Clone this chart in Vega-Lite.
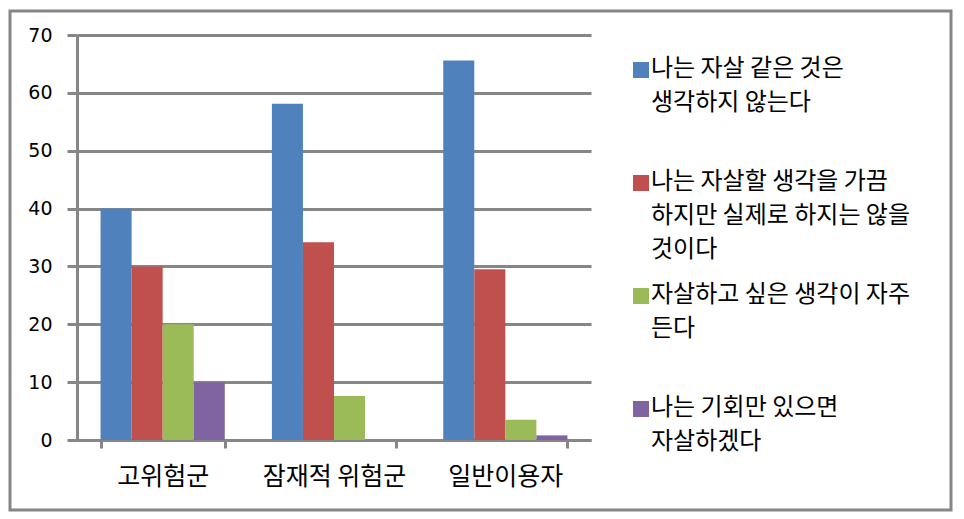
{
  "$schema": "https://vega.github.io/schema/vega-lite/v6.json",
  "width": 941,
  "height": 499,
  "autosize": "none",
  "padding": {"left": 10, "top": 11, "right": 13, "bottom": 9},
  "background": "white",
  "config": {"view": {"stroke": "#868686", "strokeWidth": 3}},
  "data": {
    "values": [
      {"group": "고위험군", "series": "나는 자살 같은 것은 생각하지 않는다", "value": 40},
      {"group": "고위험군", "series": "나는 자살할 생각을 가끔 하지만 실제로 하지는 않을 것이다", "value": 30},
      {"group": "고위험군", "series": "자살하고 싶은 생각이 자주 든다", "value": 20},
      {"group": "고위험군", "series": "나는 기회만 있으면 자살하겠다", "value": 10},
      {"group": "잠재적 위험군", "series": "나는 자살 같은 것은 생각하지 않는다", "value": 58.1},
      {"group": "잠재적 위험군", "series": "나는 자살할 생각을 가끔 하지만 실제로 하지는 않을 것이다", "value": 34.2},
      {"group": "잠재적 위험군", "series": "자살하고 싶은 생각이 자주 든다", "value": 7.6},
      {"group": "잠재적 위험군", "series": "나는 기회만 있으면 자살하겠다", "value": 0},
      {"group": "일반이용자", "series": "나는 자살 같은 것은 생각하지 않는다", "value": 65.6},
      {"group": "일반이용자", "series": "나는 자살할 생각을 가끔 하지만 실제로 하지는 않을 것이다", "value": 29.5},
      {"group": "일반이용자", "series": "자살하고 싶은 생각이 자주 든다", "value": 3.5},
      {"group": "일반이용자", "series": "나는 기회만 있으면 자살하겠다", "value": 0.8}
    ]
  },
  "mark": {"type": "bar"},
  "encoding": {
    "x": {
      "field": "group",
      "type": "nominal",
      "sort": ["고위험군", "잠재적 위험군", "일반이용자"],
      "scale": {"range": [67, 581], "paddingInner": 0.275, "paddingOuter": 0.1375},
      "axis": {
        "title": null,
        "offset": -70,
        "tickBand": "extent",
        "labelAngle": 0,
        "domainColor": "#868686",
        "domainWidth": 3,
        "tickColor": "#868686",
        "tickWidth": 3,
        "tickSize": 8,
        "labelPadding": 16,
        "labelFont": "Noto Sans CJK KR",
        "labelFontSize": 25,
        "labelColor": "black",
        "grid": false
      }
    },
    "xOffset": {
      "field": "series",
      "type": "nominal",
      "sort": [
        "나는 자살 같은 것은 생각하지 않는다",
        "나는 자살할 생각을 가끔 하지만 실제로 하지는 않을 것이다",
        "자살하고 싶은 생각이 자주 든다",
        "나는 기회만 있으면 자살하겠다"
      ],
      "scale": {"paddingInner": 0, "paddingOuter": 0}
    },
    "y": {
      "field": "value",
      "type": "quantitative",
      "scale": {"domain": [0, 70], "range": [429, 24], "nice": false},
      "axis": {
        "title": null,
        "values": [0, 10, 20, 30, 40, 50, 60, 70],
        "offset": -67,
        "grid": true,
        "gridColor": "#868686",
        "gridWidth": 3,
        "domainColor": "#868686",
        "domainWidth": 3,
        "tickColor": "#868686",
        "tickWidth": 3,
        "tickSize": 10,
        "labelPadding": 15,
        "labelFont": "DejaVu Sans",
        "labelFontSize": 19,
        "labelColor": "black"
      }
    },
    "color": {
      "field": "series",
      "type": "nominal",
      "scale": {
        "domain": [
          "나는 자살 같은 것은 생각하지 않는다",
          "나는 자살할 생각을 가끔 하지만 실제로 하지는 않을 것이다",
          "자살하고 싶은 생각이 자주 든다",
          "나는 기회만 있으면 자살하겠다"
        ],
        "range": ["#4F81BD", "#C0504D", "#9BBB59", "#8064A2"]
      },
      "legend": {
        "orient": "none",
        "legendX": 619,
        "legendY": 47,
        "title": null,
        "padding": 0,
        "symbolType": "square",
        "symbolSize": 256,
        "symbolStrokeWidth": 0,
        "labelFont": "Noto Sans CJK KR",
        "labelFontSize": 24,
        "labelColor": "black",
        "labelLimit": 500,
        "labelOffset": -2,
        "labelBaseline": "top",
        "rowPadding": 21,
        "labelExpr": "datum.label == '나는 자살 같은 것은 생각하지 않는다' ? ['나는 자살 같은 것은', '생각하지 않는다', ''] : datum.label == '나는 자살할 생각을 가끔 하지만 실제로 하지는 않을 것이다' ? ['나는 자살할 생각을 가끔', '하지만 실제로 하지는 않을', '것이다'] : datum.label == '자살하고 싶은 생각이 자주 든다' ? ['자살하고 싶은 생각이 자주', '든다', ''] : ['나는 기회만 있으면', '자살하겠다', '']",
        "encode": {"labels": {"update": {"lineHeight": {"value": 34}, "dy": {"value": -13}}}}
      }
    }
  }
}
